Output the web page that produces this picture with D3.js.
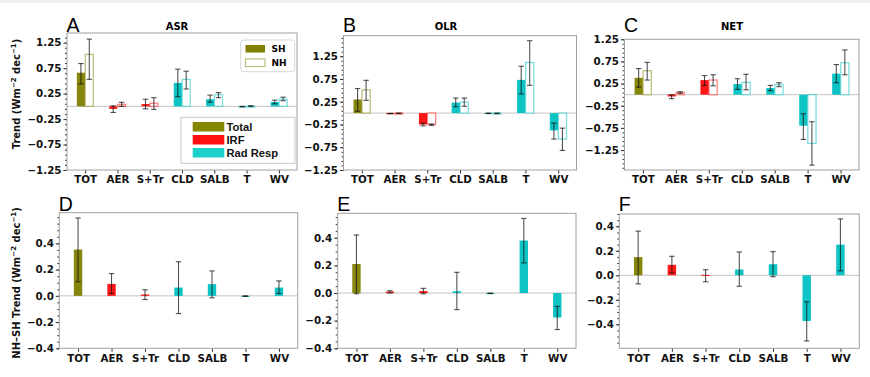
<!DOCTYPE html>
<html>
<head>
<meta charset="utf-8">
<script src="https://cdn.jsdelivr.net/npm/d3@7"></script>
<style>
  body { margin: 0; background: #fff; }
  svg { display: block; }
  .tick text { font-family: "DejaVu Sans", sans-serif; font-weight: bold; font-size: 10.3px; fill: #111; }
  .tick line { stroke: #333; }
</style>
</head>
<body>
<svg id="fig" width="870" height="377"></svg>
<script>

// categories on the x axis, and which legend group each one belongs to
var categories = [ 'TOT', 'AER', 'S+Tr', 'CLD', 'SALB', 'T', 'WV' ];
var catGroup = [ 'Total', 'IRF', 'IRF', 'Rad Resp', 'Rad Resp', 'Rad Resp', 'Rad Resp' ];

// top row: SH / NH trends with error bar ends (lo, hi)
var asrSH   = [ 0.66, -0.05, 0.045, 0.46, 0.14, -0.005, 0.085 ];
var asrSHLo = [ 0.44, -0.12, -0.05, 0.19, 0.08, -0.01, 0.05 ];
var asrSHHi = [ 0.84, 0.01, 0.14, 0.73, 0.22, 0.0, 0.12 ];
var asrNH   = [ 1.02, 0.04, 0.06, 0.53, 0.23, 0.005, 0.14 ];
var asrNHLo = [ 0.53, 0.0, -0.06, 0.34, 0.17, 0.0, 0.11 ];
var asrNHHi = [ 1.32, 0.08, 0.17, 0.69, 0.27, 0.01, 0.18 ];

var olrSH   = [ 0.30, -0.01, -0.25, 0.23, -0.005, 0.73, -0.38 ];
var olrSHLo = [ 0.04, -0.015, -0.28, 0.14, -0.01, 0.42, -0.57 ];
var olrSHHi = [ 0.54, -0.005, -0.22, 0.33, 0.0, 1.03, -0.22 ];
var olrNH   = [ 0.51, -0.005, -0.25, 0.24, -0.005, 1.11, -0.57 ];
var olrNHLo = [ 0.28, -0.01, -0.27, 0.15, -0.01, 0.61, -0.82 ];
var olrNHHi = [ 0.72, 0.0, -0.24, 0.33, 0.0, 1.59, -0.33 ];

var netSH   = [ 0.38, -0.04, 0.33, 0.24, 0.15, -0.70, 0.475 ];
var netSHLo = [ 0.17, -0.09, 0.21, 0.12, 0.09, -1.01, 0.27 ];
var netSHHi = [ 0.59, 0.0, 0.43, 0.36, 0.21, -0.43, 0.68 ];
var netNH   = [ 0.54, 0.05, 0.33, 0.28, 0.23, -1.10, 0.72 ];
var netNHLo = [ 0.33, 0.03, 0.20, 0.11, 0.18, -1.59, 0.45 ];
var netNHHi = [ 0.73, 0.065, 0.45, 0.46, 0.27, -0.61, 1.01 ];

// bottom row: NH minus SH trends
var asrDiff   = [ 0.353, 0.091, 0.01, 0.063, 0.089, -0.002, 0.063 ];
var asrDiffLo = [ 0.107, 0.018, -0.028, -0.135, -0.015, -0.004, 0.018 ];
var asrDiffHi = [ 0.594, 0.17, 0.046, 0.26, 0.19, 0.0, 0.114 ];

var olrDiff   = [ 0.21, 0.01, 0.014, 0.013, -0.002, 0.38, -0.177 ];
var olrDiffLo = [ -0.005, 0.0, -0.005, -0.12, -0.004, 0.218, -0.264 ];
var olrDiffHi = [ 0.42, 0.017, 0.034, 0.15, 0.0, 0.54, -0.097 ];

var netDiff   = [ 0.148, 0.085, 0.003, 0.047, 0.09, -0.373, 0.25 ];
var netDiffLo = [ -0.07, 0.02, -0.053, -0.09, -0.012, -0.536, 0.036 ];
var netDiffHi = [ 0.36, 0.155, 0.045, 0.19, 0.193, -0.216, 0.46 ];

// tick labels
var topTicks = [ -1.25, -0.75, -0.25, 0.25, 0.75, 1.25 ];
var bottomTicks = [ -0.4, -0.2, 0.0, 0.2, 0.4 ];

var legendGroups = [ 'Total', 'IRF', 'Rad Resp' ];
var hemispheres = [ 'SH', 'NH' ];


var colors = { 'Total': '#7f7f00', 'IRF': '#ff0a0a', 'Rad Resp': '#00c0c0' };
var legendColors = { 'Total': '#868600', 'IRF': '#ff1010', 'Rad Resp': '#1ad2ca' };

var svg = d3.select( '#fig' );

// thin grey strip along the top like the screenshot
svg.append( 'rect' ).attr( 'x', 0 ).attr( 'y', 0 ).attr( 'width', 870 ).attr( 'height', 3 ).attr( 'fill', '#f0f0f0' );

var panels = [
	{ letter: 'A', title: 'ASR', titleX: 177, box: { l: 67, r: 297, t: 33, b: 170 }, dom: [ -1.25, 1.44 ], top: true,
		sh: [ asrSH, asrSHLo, asrSHHi ], nh: [ asrNH, asrNHLo, asrNHHi ] },
	{ letter: 'B', title: 'OLR', titleX: 446, box: { l: 343.5, r: 576.5, t: 35.7, b: 170 }, dom: [ -1.25, 1.70 ], top: true,
		sh: [ olrSH, olrSHLo, olrSHHi ], nh: [ olrNH, olrNHLo, olrNHHi ] },
	{ letter: 'C', title: 'NET', titleX: 732, box: { l: 624.5, r: 859, t: 39.3, b: 170 }, dom: [ -1.70, 1.25 ], top: true,
		sh: [ netSH, netSHLo, netSHHi ], nh: [ netNH, netNHLo, netNHHi ] },
	{ letter: 'D', box: { l: 59.3, r: 297.7, t: 212.7, b: 348.3 }, dom: [ -0.4, 0.634 ], top: false,
		diff: [ asrDiff, asrDiffLo, asrDiffHi ] },
	{ letter: 'E', box: { l: 337.7, r: 576, t: 213.3, b: 348.3 }, dom: [ -0.4, 0.577 ], top: false,
		diff: [ olrDiff, olrDiffLo, olrDiffHi ] },
	{ letter: 'F', box: { l: 619.3, r: 859.3, t: 214, b: 348.3 }, dom: [ -0.596, 0.50 ], top: false,
		diff: [ netDiff, netDiffLo, netDiffHi ] }
];


function drawPanel( p ) {

	var x = d3.scaleLinear().domain( [ -0.56, 6.56 ] ).range( [ p.box.l, p.box.r ] );
	var y = d3.scaleLinear().domain( p.dom ).range( [ p.box.b, p.box.t ] );
	var g = svg.append( 'g' );

	// minor ticks
	var step = p.top ? 0.1 : 0.05;
	var base = p.top ? 0.25 : 0;
	var minor = d3.range( Math.ceil( ( p.dom[0] - base ) / step - 1e-6 ), Math.floor( ( p.dom[1] - base ) / step + 1e-6 ) + 1 )
		.map( function ( k ) { return +( base + k * step ).toFixed( 3 ); } );

	g.append( 'g' )
		.attr( 'transform', 'translate(' + p.box.l + ',0)' )
		.call( d3.axisLeft( y ).tickValues( minor ).tickSize( 2 ).tickFormat( '' ) )
		.call( function ( a ) { a.select( '.domain' ).remove(); } );

	var major = ( p.top ? topTicks : bottomTicks ).filter( function ( v ) {
		return v >= p.dom[0] - 1e-6 && v <= p.dom[1] + 1e-6;
	} );

	g.append( 'g' )
		.attr( 'transform', 'translate(' + p.box.l + ',0)' )
		.call( d3.axisLeft( y ).tickValues( major ).tickSize( 3.5 ).tickPadding( 2 ).tickFormat( d3.format( p.top ? '.2f' : '.1f' ) ) )
		.call( function ( a ) { a.select( '.domain' ).remove(); } );

	g.append( 'g' )
		.attr( 'transform', 'translate(0,' + p.box.b + ')' )
		.call( d3.axisBottom( x ).tickValues( d3.range( categories.length ) ).tickSize( 3.5 ).tickPadding( 2.5 )
			.tickFormat( function ( i ) { return categories[i]; } ) )
		.call( function ( a ) { a.select( '.domain' ).remove(); } );

	// zero line
	g.append( 'line' )
		.attr( 'x1', p.box.l ).attr( 'x2', p.box.r )
		.attr( 'y1', y( 0 ) ).attr( 'y2', y( 0 ) )
		.attr( 'stroke', '#c4c4c4' ).attr( 'stroke-width', 1 );

	var bw = 0.25;
	var series = p.top
		? [ { d: p.sh, off: -0.13, hollow: false }, { d: p.nh, off: 0.13, hollow: true } ]
		: [ { d: p.diff, off: 0, hollow: false } ];

	series.forEach( function ( s ) {

		var rows = categories.map( function ( c, i ) {
			return { i: i, v: s.d[0][i], lo: s.d[1][i], hi: s.d[2][i], col: colors[catGroup[i]] };
		} );

		g.selectAll( null )
			.data( rows )
			.enter()
			.append( 'rect' )
			.attr( 'x', function ( d ) { return x( d.i + s.off - bw / 2 ); } )
			.attr( 'width', function ( d ) { return x( bw ) - x( 0 ); } )
			.attr( 'y', function ( d ) { return Math.min( y( 0 ), y( d.v ) ); } )
			.attr( 'height', function ( d ) { return Math.max( 1, Math.abs( y( d.v ) - y( 0 ) ) ); } )
			.attr( 'fill', function ( d ) { return s.hollow ? '#fff' : d.col; } )
			.attr( 'fill-opacity', s.hollow ? 1 : 0.95 )
			.attr( 'stroke', function ( d ) { return d.col; } )
			.attr( 'stroke-opacity', s.hollow ? 0.5 : 0 )
			.attr( 'stroke-width', 1.3 );

		// error bars
		var eb = g.selectAll( null )
			.data( rows )
			.enter()
			.append( 'g' )
			.attr( 'stroke', '#111' )
			.attr( 'stroke-opacity', 0.72 )
			.attr( 'stroke-width', 1.1 );

		eb.append( 'line' )
			.attr( 'x1', function ( d ) { return x( d.i + s.off ); } )
			.attr( 'x2', function ( d ) { return x( d.i + s.off ); } )
			.attr( 'y1', function ( d ) { return y( d.lo ); } )
			.attr( 'y2', function ( d ) { return y( d.hi ); } );

		[ 'lo', 'hi' ].forEach( function ( k ) {
			eb.append( 'line' )
				.attr( 'x1', function ( d ) { return x( d.i + s.off ) - 2.7; } )
				.attr( 'x2', function ( d ) { return x( d.i + s.off ) + 2.7; } )
				.attr( 'y1', function ( d ) { return y( d[k] ); } )
				.attr( 'y2', function ( d ) { return y( d[k] ); } );
		} );

	} );

	// frame
	g.append( 'rect' )
		.attr( 'x', p.box.l ).attr( 'y', p.box.t )
		.attr( 'width', p.box.r - p.box.l ).attr( 'height', p.box.b - p.box.t )
		.attr( 'fill', 'none' ).attr( 'stroke', '#a0a0a0' ).attr( 'stroke-width', 1 );

	// panel letter
	g.append( 'text' )
		.attr( 'x', p.box.l - 0.5 ).attr( 'y', p.top ? 32.3 : 211.2 )
		.style( 'font-family', '"Liberation Sans", Arial, sans-serif' )
		.style( 'font-size', '19.5px' )
		.text( p.letter );

	if ( p.title ) {
		g.append( 'text' )
			.attr( 'x', p.titleX ).attr( 'y', 30 )
			.attr( 'text-anchor', 'middle' )
			.style( 'font-family', '"DejaVu Sans", sans-serif' )
			.style( 'font-weight', 'bold' )
			.style( 'font-size', '10px' )
			.text( p.title );
	}

}

panels.forEach( drawPanel );


// y axis labels
function yLabel( cx, cy, prefix ) {
	var t = svg.append( 'text' )
		.attr( 'transform', 'translate(' + cx + ',' + cy + ') rotate(-90)' )
		.attr( 'text-anchor', 'middle' )
		.style( 'font-family', '"DejaVu Sans", sans-serif' )
		.style( 'font-weight', 'bold' )
		.style( 'font-size', '10px' )
		.attr( 'fill', '#111' );
	t.append( 'tspan' ).text( prefix + 'Trend (Wm' );
	t.append( 'tspan' ).attr( 'dy', -4 ).style( 'font-size', '7px' ).text( '\u22122' );
	t.append( 'tspan' ).attr( 'dy', 4 ).text( ' dec' );
	t.append( 'tspan' ).attr( 'dy', -4 ).style( 'font-size', '7px' ).text( '\u22121' );
	t.append( 'tspan' ).attr( 'dy', 4 ).text( ')' );
}

yLabel( 20, 94, '' );
yLabel( 20, 283, 'NH\u2013SH ' );


// SH / NH legend
var hemLegend = svg.append( 'g' );
hemLegend.append( 'rect' )
	.attr( 'x', 240.7 ).attr( 'y', 40 ).attr( 'width', 54 ).attr( 'height', 31.7 )
	.attr( 'rx', 2.5 ).attr( 'fill', '#fff' ).attr( 'stroke', '#d8d8d8' );

hemLegend.selectAll( null )
	.data( hemispheres )
	.enter()
	.append( 'rect' )
	.attr( 'x', 245.5 )
	.attr( 'y', function ( d, i ) { return 45 + i * 14; } )
	.attr( 'width', 19.5 ).attr( 'height', 7.5 )
	.attr( 'fill', function ( d ) { return d === 'SH' ? colors['Total'] : '#fff'; } )
	.attr( 'stroke', colors['Total'] )
	.attr( 'stroke-opacity', function ( d ) { return d === 'SH' ? 0 : 0.5; } )
	.attr( 'stroke-width', 1.2 );

hemLegend.selectAll( null )
	.data( hemispheres )
	.enter()
	.append( 'text' )
	.attr( 'x', 271.5 )
	.attr( 'y', function ( d, i ) { return 52.3 + i * 14; } )
	.style( 'font-family', '"DejaVu Sans", sans-serif' )
	.style( 'font-weight', 'bold' )
	.style( 'font-size', '9px' )
	.text( function ( d ) { return d; } );


// forcing-type legend
var typeLegend = svg.append( 'g' );
typeLegend.append( 'rect' )
	.attr( 'x', 181 ).attr( 'y', 117.3 ).attr( 'width', 114 ).attr( 'height', 46 )
	.attr( 'fill', '#fff' ).attr( 'stroke', '#c8c8c8' );

typeLegend.selectAll( null )
	.data( legendGroups )
	.enter()
	.append( 'rect' )
	.attr( 'x', 192.7 )
	.attr( 'y', function ( d, i ) { return 122 + i * 13; } )
	.attr( 'width', 31.6 ).attr( 'height', 9.5 )
	.attr( 'fill', function ( d ) { return legendColors[d]; } );

typeLegend.selectAll( null )
	.data( legendGroups )
	.enter()
	.append( 'text' )
	.attr( 'x', 226.5 )
	.attr( 'y', function ( d, i ) { return 130.8 + i * 13; } )
	.style( 'font-family', '"Liberation Sans", Arial, sans-serif' )
	.style( 'font-weight', 'bold' )
	.style( 'font-size', '11.2px' )
	.attr( 'fill', '#111' )
	.text( function ( d ) { return d; } );

</script>
</body>
</html>
